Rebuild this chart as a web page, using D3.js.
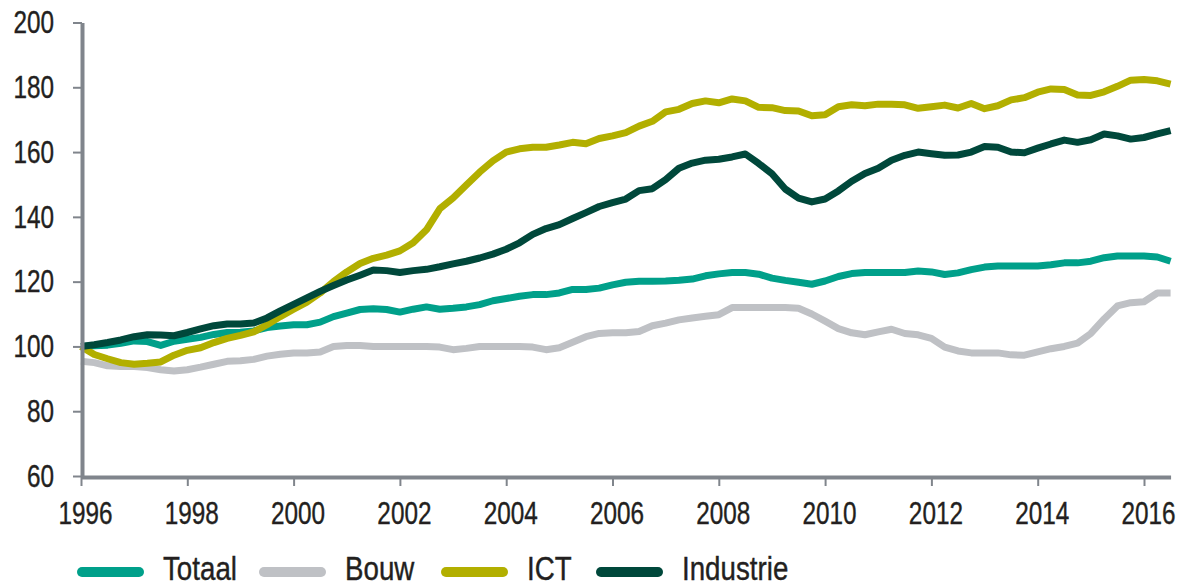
<!DOCTYPE html>
<html>
<head>
<meta charset="utf-8">
<script src="https://cdn.jsdelivr.net/npm/d3@7"></script>
<style>
  html, body { margin: 0; padding: 0; background: #ffffff; }
  svg { display: block; }
  text { font-family: "Liberation Sans", Arial, sans-serif; fill: #231f20; stroke: #231f20; stroke-width: 0.4px; }
</style>
</head>
<body>
<svg id="chart" width="1179" height="587"></svg>
<script>
// ---- data (quarterly index, 1996 = 100) ----
const startYear = 1996;
const seriesNames = ["Totaal", "Bouw", "ICT", "Industrie"];
const seriesColors = ["#00a08a", "#bfc1c5", "#b2af00", "#00483b"];

const totaal = [100,100.2,100.4,101,101.7,101.5,100.3,101.6,102.2,102.8,103.7,104.3,104.4,104.8,105.8,106.3,
  106.7,106.7,107.5,109.2,110.3,111.4,111.6,111.4,110.6,111.5,112.2,111.5,111.8,112.2,112.9,114.1,
  114.8,115.5,116,116,116.5,117.6,117.6,118,119,119.8,120.1,120.1,120.2,120.4,120.8,121.8,
  122.4,122.8,122.8,122.3,121.1,120.4,119.8,119.2,120.2,121.6,122.5,122.8,122.8,122.8,122.8,123.3,
  123,122.2,122.7,123.7,124.5,124.8,124.8,124.8,124.8,125.2,125.8,125.8,126.3,127.4,127.9,127.9,
  127.9,127.6,126.3];
const bouw = [95.4,95,94,93.8,93.8,93.5,92.8,92.4,92.8,93.6,94.5,95.4,95.6,96,97,97.6,
  98,98,98.3,100,100.3,100.3,100,100,100,100,100,99.8,99,99.4,100,100,
  100,100,99.8,99,99.6,101.3,103,104,104.2,104.2,104.6,106.4,107.2,108.2,108.8,109.3,
  109.8,112,112,112,112,112,111.8,110,107.8,105.5,104.2,103.6,104.5,105.3,104,103.6,
  102.5,99.8,98.6,98,98,98,97.4,97.3,98.3,99.3,100,101,104,108.5,112.5,113.5,
  113.8,116.5,116.5];
const ict = [100,97.5,96.2,95,94.5,94.8,95.2,97.3,98.8,99.6,101.2,102.5,103.4,104.5,106.7,109.2,
  111.5,113.7,116.5,120,123,125.6,127.2,128.2,129.5,132,136,142.5,145.8,149.8,153.8,157.3,
  160,161,161.5,161.5,162.2,163,162.6,164.2,165,166,168,169.5,172.4,173.2,175,175.8,
  175.2,176.4,175.8,173.8,173.7,172.8,172.7,171.2,171.5,174,174.6,174.3,174.8,174.8,174.6,173.5,
  174,174.5,173.6,175,173.4,174.3,176.1,176.8,178.5,179.5,179.3,177.6,177.5,178.6,180.3,182.2,
  182.4,182,181];
const industrie = [100,100.5,101.2,102,103,103.6,103.5,103.3,104.3,105.4,106.4,106.9,106.9,107.2,108.8,111,
  113,115,117,118.8,120.5,122,123.6,123.4,122.8,123.4,123.8,124.6,125.5,126.3,127.3,128.5,
  130,132,134.6,136.4,137.6,139.5,141.3,143.2,144.4,145.5,148.1,148.7,151.5,155,156.6,157.5,
  157.8,158.5,159.4,156.5,153.3,148.6,145.8,144.6,145.5,148,151,153.4,155,157.5,159,160,
  159.5,159,159.1,160,161.7,161.5,160,159.8,161.2,162.5,163.7,163,163.8,165.6,165,164,
  164.5,165.6,166.6];

const yTicks = [60, 80, 100, 120, 140, 160, 180, 200];
const xTicks = [1996, 1998, 2000, 2002, 2004, 2006, 2008, 2010, 2012, 2014, 2016];

const allSeries = [totaal, bouw, ict, industrie];

// ---- scales ----
const svg = d3.select("#chart");
const x = d3.scaleLinear().domain([1996, 2016.5]).range([81, 81 + 20.5 * 53.15]);
const y = d3.scaleLinear().domain([60, 200]).range([476, 22.5]);

const axisColor = "#80858c";
const AXIS_SCALE = 0.76;
const LEGEND_SCALE = 0.84;

// condense a text element horizontally around its own anchor point
function condense(sel, s) {
  sel.each(function () {
    const t = d3.select(this);
    const tx = +t.attr("x") || 0;
    const ty = +t.attr("y") || 0;
    t.attr("x", 0).attr("y", 0)
     .attr("transform", `translate(${tx},${ty}) scale(${s},1)`);
  });
}

// ---- lines (draw order: Bouw, Totaal, ICT, Industrie) ----
const line = d3.line()
  .x((d, i) => x(startYear + i * 0.25))
  .y(d => y(d))
  .curve(d3.curveLinear);

const drawOrder = [1, 0, 2, 3];
drawOrder.forEach(k => {
  svg.append("path")
    .datum(allSeries[k])
    .attr("d", line)
    .attr("fill", "none")
    .attr("stroke", seriesColors[k])
    .attr("stroke-width", 7)
    .attr("stroke-linejoin", "round")
    .attr("stroke-linecap", "butt");
});

// ---- y axis ----
const yAxis = svg.append("g")
  .attr("transform", "translate(82,0)")
  .call(d3.axisLeft(y).tickValues(yTicks).tickSize(9).tickSizeOuter(0).tickPadding(19).tickFormat(d3.format("d")));
yAxis.select(".domain").attr("stroke", axisColor).attr("stroke-width", 4);
yAxis.selectAll(".tick line").attr("stroke", axisColor).attr("stroke-width", 2);
yAxis.selectAll(".tick text").attr("font-size", 32).attr("fill", "#231f20")
  .style("font-family", "'Liberation Sans', Arial, sans-serif");
condense(yAxis.selectAll(".tick text"), AXIS_SCALE);

// ---- x axis ----
const xAxis = svg.append("g")
  .attr("transform", "translate(0,477)")
  .call(d3.axisBottom(x).tickValues(xTicks).tickSize(9).tickSizeOuter(0).tickPadding(15).tickFormat(d3.format("d")));
xAxis.select(".domain").attr("stroke", axisColor).attr("stroke-width", 4);
xAxis.selectAll(".tick line").attr("stroke", axisColor).attr("stroke-width", 2);
xAxis.selectAll(".tick text").attr("font-size", 32).attr("fill", "#231f20")
  .style("font-family", "'Liberation Sans', Arial, sans-serif");
xAxis.selectAll(".tick text").attr("x", 4);
condense(xAxis.selectAll(".tick text"), AXIS_SCALE);

// ---- legend ----
const legendX = [82, 264, 446, 601];
const legend = svg.append("g");
seriesNames.forEach((name, i) => {
  legend.append("line")
    .attr("x1", legendX[i]).attr("x2", legendX[i] + 57)
    .attr("y1", 572).attr("y2", 572)
    .attr("stroke", seriesColors[i])
    .attr("stroke-width", 10)
    .attr("stroke-linecap", "round");
  const t = legend.append("text")
    .attr("x", legendX[i] + 81)
    .attr("y", 580)
    .attr("font-size", 33)
    .text(name);
  condense(t, LEGEND_SCALE);
});
</script>
</body>
</html>
